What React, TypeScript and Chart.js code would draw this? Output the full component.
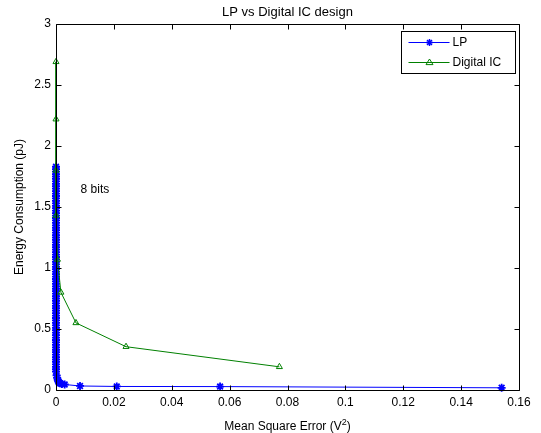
import { useEffect, useRef } from 'react';
import { Chart, registerables } from 'chart.js';

Chart.register(...registerables);

const titleText = 'LP vs Digital IC design';
const xLabelMain = 'Mean Square Error (V';
const xLabelSup = '2';
const xLabelEnd = ')';
const yLabel = 'Energy Consumption (pJ)';
const seriesNames = ['LP', 'Digital IC'];
const annotationText = '8 bits';
const annotationX = 0.0085;
const annotationY = 1.64;

const xTicks = [0, 0.02, 0.04, 0.06, 0.08, 0.1, 0.12, 0.14, 0.16];
const xTickLabels = ['0', '0.02', '0.04', '0.06', '0.08', '0.1', '0.12', '0.14', '0.16'];
const yTicks = [0, 0.5, 1, 1.5, 2, 2.5, 3];
const yTickLabels = ['0', '0.5', '1', '1.5', '2', '2.5', '3'];

// LP: dense column of points near x = 0, then a long tail
const lpY = [
  1.83, 1.81, 1.79, 1.77, 1.75, 1.73, 1.71, 1.69, 1.67, 1.65,
  1.63, 1.61, 1.59, 1.57, 1.55, 1.53, 1.51, 1.49, 1.47, 1.45,
  1.43, 1.41, 1.39, 1.37, 1.35, 1.33, 1.31, 1.29, 1.27, 1.25,
  1.23, 1.21, 1.19, 1.17, 1.15, 1.13, 1.11, 1.09, 1.07, 1.05,
  1.03, 1.01, 0.99, 0.97, 0.95, 0.93, 0.91, 0.89, 0.87, 0.85,
  0.83, 0.81, 0.79, 0.77, 0.75, 0.73, 0.71, 0.69, 0.67, 0.65,
  0.63, 0.61, 0.59, 0.57, 0.55, 0.53, 0.51, 0.49, 0.47, 0.45,
  0.43, 0.41, 0.39, 0.37, 0.35, 0.33, 0.31, 0.29, 0.27, 0.25,
  0.23, 0.21, 0.19, 0.17, 0.15,
  0.12, 0.1, 0.085, 0.07, 0.06, 0.055, 0.05, 0.045, 0.033, 0.029, 0.028, 0.018,
];
const lpX = [
  0, 0, 0, 0, 0, 0, 0, 0, 0, 0,
  0, 0, 0, 0, 0, 0, 0, 0, 0, 0,
  0, 0, 0, 0, 0, 0, 0, 0, 0, 0,
  0, 0, 0, 0, 0, 0, 0, 0, 0, 0,
  0, 0, 0, 0, 0, 0, 0, 0, 0, 0,
  0, 0, 0, 0, 0, 0, 0, 0, 0, 0,
  0, 0, 0, 0, 0, 0, 0, 0, 0, 0,
  0, 0, 0, 0, 0, 0, 0, 0, 0, 0,
  0, 0, 0, 0, 0,
  0.0002, 0.0004, 0.0006, 0.0008, 0.001, 0.0014, 0.002, 0.003, 0.0083, 0.021, 0.0567, 0.154,
];

// Digital IC
const icX = [0, 0, 0, 0, 0.0005, 0.0017, 0.0069, 0.0242, 0.0772];
const icY = [2.69, 2.22, 1.8, 1.43, 1.07, 0.8, 0.55, 0.355, 0.19];

const lpColor = '#0000ff';
const icColor = '#008000';
const FONT = '"Liberation Sans", Arial, Helvetica, sans-serif';

function drawMarker(ctx: CanvasRenderingContext2D, style: string, x: number, y: number, color: string) {
  ctx.save();
  ctx.strokeStyle = color;
  ctx.beginPath();
  const r = 3.5;
  if (style === 'star') {
    ctx.lineWidth = 1.5;
    ctx.moveTo(x - r, y);
    ctx.lineTo(x + r, y);
    ctx.moveTo(x, y - r);
    ctx.lineTo(x, y + r);
    const d = r * Math.SQRT1_2;
    ctx.moveTo(x - d, y - d);
    ctx.lineTo(x + d, y + d);
    ctx.moveTo(x - d, y + d);
    ctx.lineTo(x + d, y - d);
  } else {
    ctx.lineWidth = 1;
    ctx.moveTo(x, y - r);
    ctx.lineTo(x + r, y + r * 0.6);
    ctx.lineTo(x - r, y + r * 0.6);
    ctx.closePath();
  }
  ctx.stroke();
  ctx.restore();
}

export default function App() {
  const ref = useRef<HTMLCanvasElement | null>(null);

  useEffect(() => {
    document.body.style.margin = '0';
    const canvas = ref.current;
    if (!canvas) return;

    const framePlugin = {
      id: 'matlabFrame',
      afterDatasetsDraw(chart: any) {
        const { ctx, chartArea } = chart;
        const xs = chart.scales.x;
        const ys = chart.scales.y;
        const L = Math.round(chartArea.left) + 0.5;
        const R = Math.round(chartArea.right) + 0.5;
        const T = Math.round(chartArea.top) + 0.5;
        const B = Math.round(chartArea.bottom) + 0.5;
        ctx.save();
        ctx.strokeStyle = '#000';
        ctx.lineWidth = 1;
        ctx.beginPath();
        ctx.rect(L, T, R - L, B - T);
        const tl = 5;
        xTicks.forEach((v) => {
          const px = Math.round(xs.getPixelForValue(v)) + 0.5;
          ctx.moveTo(px, B);
          ctx.lineTo(px, B - tl);
          ctx.moveTo(px, T);
          ctx.lineTo(px, T + tl);
        });
        yTicks.forEach((v) => {
          const py = Math.round(ys.getPixelForValue(v)) + 0.5;
          ctx.moveTo(L, py);
          ctx.lineTo(L + tl, py);
          ctx.moveTo(R, py);
          ctx.lineTo(R - tl, py);
        });
        ctx.stroke();
        ctx.restore();
      },
      afterDraw(chart: any) {
        const { ctx, chartArea } = chart;
        const xs = chart.scales.x;
        const ys = chart.scales.y;
        const cx = (chartArea.left + chartArea.right) / 2;
        const cy = (chartArea.top + chartArea.bottom) / 2;
        ctx.save();
        ctx.fillStyle = '#000';
        ctx.font = `13px ${FONT}`;
        ctx.textAlign = 'center';
        ctx.textBaseline = 'middle';
        ctx.fillText(titleText, cx, 12);
        ctx.font = `12px ${FONT}`;
        const wMain = ctx.measureText(xLabelMain).width;
        const wEnd = ctx.measureText(xLabelEnd).width;
        ctx.font = `9px ${FONT}`;
        const wSup = ctx.measureText(xLabelSup).width;
        const total = wMain + wSup + wEnd;
        let sx = cx - total / 2;
        const baseY = 430;
        ctx.textAlign = 'left';
        ctx.textBaseline = 'alphabetic';
        ctx.font = `12px ${FONT}`;
        ctx.fillText(xLabelMain, sx, baseY);
        sx += wMain;
        ctx.font = `9px ${FONT}`;
        ctx.fillText(xLabelSup, sx, baseY - 5);
        sx += wSup;
        ctx.font = `12px ${FONT}`;
        ctx.fillText(xLabelEnd, sx, baseY);
        ctx.save();
        ctx.translate(20, cy);
        ctx.rotate(-Math.PI / 2);
        ctx.textAlign = 'center';
        ctx.textBaseline = 'middle';
        ctx.font = `12px ${FONT}`;
        ctx.fillText(yLabel, 0, 0);
        ctx.restore();
        ctx.font = `12px ${FONT}`;
        ctx.textAlign = 'left';
        ctx.textBaseline = 'middle';
        ctx.fillText(annotationText, xs.getPixelForValue(annotationX), ys.getPixelForValue(annotationY));
        const bx = Math.round(chartArea.right) - 118 + 0.5;
        const by = Math.round(chartArea.top) + 7 + 0.5;
        const bw = 114;
        const bh = 42;
        ctx.fillStyle = '#fff';
        ctx.fillRect(bx, by, bw, bh);
        ctx.strokeStyle = '#000';
        ctx.lineWidth = 1;
        ctx.strokeRect(bx, by, bw, bh);
        const rows = [
          { name: seriesNames[0], color: lpColor, style: 'star', y: by + 11 },
          { name: seriesNames[1], color: icColor, style: 'triangle', y: by + 31 },
        ];
        rows.forEach((r) => {
          ctx.strokeStyle = r.color;
          ctx.lineWidth = 1;
          ctx.beginPath();
          ctx.moveTo(bx + 7, r.y);
          ctx.lineTo(bx + 48, r.y);
          ctx.stroke();
          drawMarker(ctx, r.style, bx + 28, r.y, r.color);
          ctx.fillStyle = '#000';
          ctx.font = `12px ${FONT}`;
          ctx.textAlign = 'left';
          ctx.textBaseline = 'middle';
          ctx.fillText(r.name, bx + 51, r.y + 0.5);
        });
        ctx.restore();
      },
    };

    const chart = new Chart(canvas, {
      type: 'line',
      data: {
        datasets: [
          {
            label: seriesNames[0],
            data: lpX.map((x, i) => ({ x, y: lpY[i] })),
            borderColor: lpColor,
            backgroundColor: lpColor,
            borderWidth: 1,
            pointStyle: 'star',
            pointRadius: 4,
            pointBorderWidth: 1.8,
            pointBorderColor: lpColor,
            showLine: true,
            tension: 0,
            order: 1,
          },
          {
            label: seriesNames[1],
            data: icX.map((x, i) => ({ x, y: icY[i] })),
            borderColor: icColor,
            backgroundColor: 'rgba(0,0,0,0)',
            borderWidth: 1,
            pointStyle: 'triangle',
            pointRadius: 3.5,
            pointBorderWidth: 1,
            pointBorderColor: icColor,
            pointBackgroundColor: 'rgba(0,0,0,0)',
            showLine: true,
            tension: 0,
            order: 0,
          },
        ],
      },
      options: {
        responsive: false,
        animation: false,
        clip: false as any,
        layout: { padding: { top: 24, right: 22, left: 0, bottom: 0 } },
        plugins: {
          legend: { display: false },
          title: { display: false },
          tooltip: { enabled: false },
        },
        scales: {
          x: {
            type: 'linear',
            min: 0,
            max: 0.16,
            grid: { display: false, drawTicks: false },
            border: { display: false },
            afterBuildTicks: (s: any) => {
              s.ticks = xTicks.map((v) => ({ value: v }));
            },
            afterFit: (s: any) => {
              s.height = 43;
            },
            ticks: {
              autoSkip: false,
              maxRotation: 0,
              padding: 5,
              color: '#000',
              font: { family: FONT, size: 12 },
              callback: (_v: any, i: number) => xTickLabels[i],
            },
          },
          y: {
            type: 'linear',
            min: 0,
            max: 3,
            grid: { display: false, drawTicks: false },
            border: { display: false },
            afterBuildTicks: (s: any) => {
              s.ticks = yTicks.map((v) => ({ value: v }));
            },
            afterFit: (s: any) => {
              s.width = 56;
            },
            ticks: {
              autoSkip: false,
              padding: 5,
              color: '#000',
              font: { family: FONT, size: 12 },
              callback: (_v: any, i: number) => yTickLabels[i],
            },
          },
        },
      },
      plugins: [framePlugin],
    });

    return () => chart.destroy();
  }, []);

  return (
    <div style={{ width: 541, height: 433 }}>
      <canvas ref={ref} width={541} height={433} style={{ display: 'block' }} />
    </div>
  );
}
